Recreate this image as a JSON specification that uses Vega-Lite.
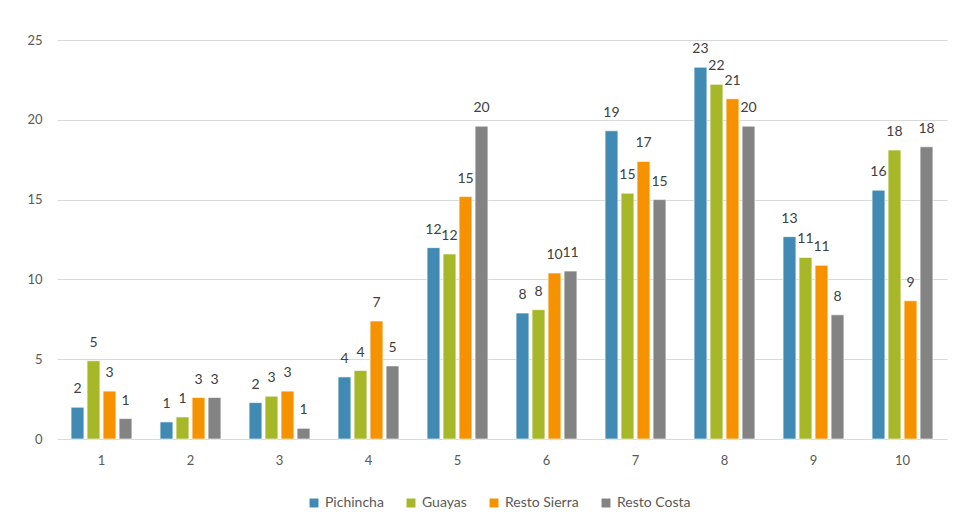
{
  "$schema": "https://vega.github.io/schema/vega-lite/v6.json",
  "width": 890,
  "height": 399,
  "autosize": "none",
  "padding": {"left": 57, "top": 40, "right": 16, "bottom": 90},
  "background": "white",
  "config": {
    "font": "Lato",
    "view": {"stroke": null},
    "axis": {"labelFont": "Lato", "labelFontSize": 13, "labelColor": "#595959", "gridColor": "#d9d9d9", "domain": false, "ticks": false, "title": null}
  },
  "data": {
    "values": [
      {"cat": "1", "series": "Pichincha", "v": 1.99},
      {"cat": "1", "series": "Guayas", "v": 4.9},
      {"cat": "1", "series": "Resto Sierra", "v": 3.0},
      {"cat": "1", "series": "Resto Costa", "v": 1.28},
      {"cat": "2", "series": "Pichincha", "v": 1.07},
      {"cat": "2", "series": "Guayas", "v": 1.38},
      {"cat": "2", "series": "Resto Sierra", "v": 2.6},
      {"cat": "2", "series": "Resto Costa", "v": 2.6},
      {"cat": "3", "series": "Pichincha", "v": 2.28},
      {"cat": "3", "series": "Guayas", "v": 2.68},
      {"cat": "3", "series": "Resto Sierra", "v": 3.0},
      {"cat": "3", "series": "Resto Costa", "v": 0.67},
      {"cat": "4", "series": "Pichincha", "v": 3.89},
      {"cat": "4", "series": "Guayas", "v": 4.29},
      {"cat": "4", "series": "Resto Sierra", "v": 7.39},
      {"cat": "4", "series": "Resto Costa", "v": 4.58},
      {"cat": "5", "series": "Pichincha", "v": 11.99},
      {"cat": "5", "series": "Guayas", "v": 11.59},
      {"cat": "5", "series": "Resto Sierra", "v": 15.19},
      {"cat": "5", "series": "Resto Costa", "v": 19.6},
      {"cat": "6", "series": "Pichincha", "v": 7.89},
      {"cat": "6", "series": "Guayas", "v": 8.1},
      {"cat": "6", "series": "Resto Sierra", "v": 10.4},
      {"cat": "6", "series": "Resto Costa", "v": 10.52},
      {"cat": "7", "series": "Pichincha", "v": 19.31},
      {"cat": "7", "series": "Guayas", "v": 15.4},
      {"cat": "7", "series": "Resto Sierra", "v": 17.39},
      {"cat": "7", "series": "Resto Costa", "v": 15.0},
      {"cat": "8", "series": "Pichincha", "v": 23.29},
      {"cat": "8", "series": "Guayas", "v": 22.22},
      {"cat": "8", "series": "Resto Sierra", "v": 21.32},
      {"cat": "8", "series": "Resto Costa", "v": 19.6},
      {"cat": "9", "series": "Pichincha", "v": 12.68},
      {"cat": "9", "series": "Guayas", "v": 11.38},
      {"cat": "9", "series": "Resto Sierra", "v": 10.88},
      {"cat": "9", "series": "Resto Costa", "v": 7.78},
      {"cat": "10", "series": "Pichincha", "v": 15.59},
      {"cat": "10", "series": "Guayas", "v": 18.1},
      {"cat": "10", "series": "Resto Sierra", "v": 8.66},
      {"cat": "10", "series": "Resto Costa", "v": 18.31}
    ]
  },
  "encoding": {
    "x": {"field": "cat", "type": "nominal", "sort": ["1","2","3","4","5","6","7","8","9","10"], "scale": {"padding": 0}, "axis": {"labelAngle": 0, "labelPadding": 15, "grid": false}},
    "xOffset": {"field": "series", "type": "nominal", "sort": ["Pichincha", "Guayas", "Resto Sierra", "Resto Costa"], "scale": {"paddingInner": 0.2, "paddingOuter": 0.88}},
    "y": {"field": "v", "type": "quantitative", "scale": {"domain": [0, 25], "nice": false}, "axis": {"values": [0, 5, 10, 15, 20, 25], "labelPadding": 15, "grid": true}}
  },
  "layer": [
    {
      "mark": {"type": "bar", "stroke": "white", "strokeWidth": 0.6},
      "encoding": {
        "color": {
          "field": "series", "type": "nominal",
          "sort": ["Pichincha", "Guayas", "Resto Sierra", "Resto Costa"],
          "scale": {"domain": ["Pichincha", "Guayas", "Resto Sierra", "Resto Costa"], "range": ["#418AB3", "#A6B727", "#F69200", "#838383"]},
          "legend": {"title": null, "orient": "none", "direction": "horizontal", "legendX": 250, "legendY": 456, "symbolType": "square", "symbolSize": 80, "symbolStrokeWidth": 0, "labelFont": "Lato", "labelFontSize": 14, "labelColor": "#595959", "columnPadding": 20, "labelOffset": 4}
        }
      }
    },
    {
      "mark": {"type": "text", "baseline": "bottom", "dy": -11, "font": "Lato", "fontSize": 14, "color": "#404040"},
      "encoding": {"text": {"field": "v", "type": "quantitative", "format": ".0f"}}
    }
  ]
}
